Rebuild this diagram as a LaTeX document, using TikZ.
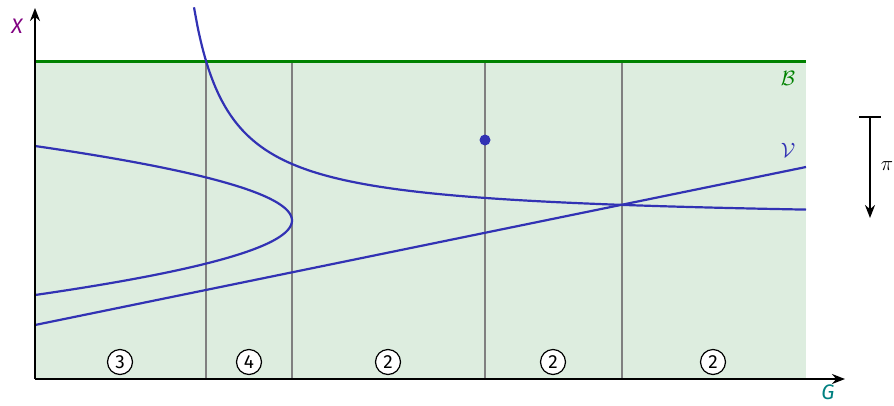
\documentclass[tikz,border=0pt]{standalone}
\usepackage{fontspec}
\setmainfont{Fira Sans}
\usetikzlibrary{arrows.meta}
\definecolor{curveblue}{RGB}{50,50,180}
\definecolor{bgreen}{RGB}{0,130,0}
\definecolor{fillgreen}{RGB}{221,237,223}
\definecolor{xpurple}{RGB}{128,0,128}
\definecolor{gteal}{RGB}{0,128,128}
\tikzset{
  curve/.style={curveblue, line width=2.2pt},
  wall/.style={gray, line width=2.6pt},
  axis/.style={black, line width=2.2pt, -{Stealth[length=13pt,width=10pt]}},
  count/.style={circle, draw, line width=1.2pt, fill=white, inner sep=0pt, minimum size=25pt, font=\fontsize{19}{22}\selectfont},
  lbl/.style={font=\fontsize{21}{25}\selectfont},
  ilbl/.style={font=\fontsize{21}{25}\selectfont\itshape},
}
\begin{document}
\begin{tikzpicture}[x=1pt, y=-1pt]
\useasboundingbox (0,0) rectangle (894,405);
\fill[fillgreen] (35,61) rectangle (806,379);
\foreach \xx in {206,292,485,622} \draw[wall] (\xx,61) -- (\xx,379);
\draw[bgreen, line width=3pt] (35,61) -- (806,61);
% curves
\draw[curve] plot[domain=194:806, samples=150, smooth] (\x, {221.5-7710/(\x-158)});
\draw[curve] plot[domain=146:295, samples=80, smooth] ({292-0.0463*(\x-220.5)^2}, \x);
\coordinate (v0) at (35,325);
\coordinate (v1) at (806,167);
\draw[curve] (v0) -- (v1);
\node[circle, fill=curveblue, inner sep=0pt, minimum size=11pt] (dot) at (485,140) {};
% axes
\coordinate (o) at (35,379);
\coordinate (xend) at (845,379);
\coordinate (yend) at (35,8);
\draw[axis] (o) -- (xend);
\draw[axis] (o) -- (yend);
\node[ilbl, text=xpurple] (X) at (17,26) {X};
\node[ilbl, text=gteal, inner sep=0pt] (G) at (828,392) {G};
\node[lbl, text=bgreen] (B) at (788,78) {$\mathcal{B}$};
\node[lbl, text=curveblue] (V) at (788,150) {$\mathcal{V}$};
% counts
\node[count] (c1) at (120,362) {3};
\node[count] (c2) at (249,362) {4};
\node[count] (c3) at (388,362) {2};
\node[count] (c4) at (553,362) {2};
\node[count] (c5) at (713,362) {2};
% pi arrow
\coordinate (pt) at (870,116);
\coordinate (pb) at (870,218);
\draw[line width=2.2pt, {Bar[width=22pt]}-{Stealth[length=13pt,width=10pt]}] (pt) -- (pb);
\node[lbl] (pi) at (887,166) {$\pi$};
\end{tikzpicture}
\end{document}
